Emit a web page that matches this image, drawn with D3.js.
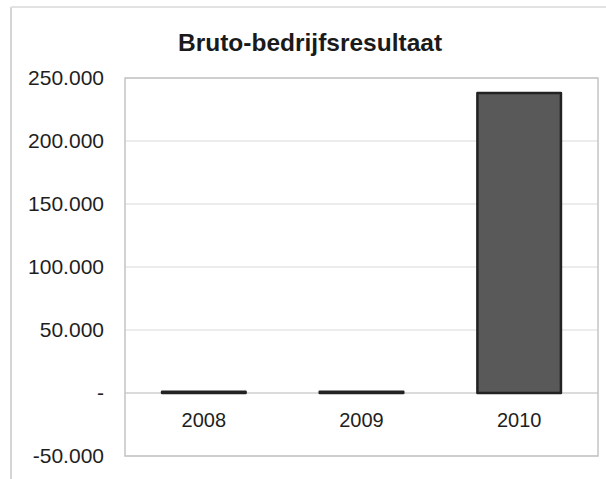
<!DOCTYPE html>
<html>
<head>
<meta charset="utf-8">
<script src="https://cdn.jsdelivr.net/npm/d3@7"></script>
<style>
  body { margin: 0; background: #fff; }
  svg { display: block; font-family: "Liberation Sans", Arial, sans-serif; }
</style>
</head>
<body>
<svg id="chart" width="606" height="479"></svg>
<script>
var years = ["2008", "2009", "2010"];
var values = [1000, 900, 238000];
var yTicks = [250000, 200000, 150000, 100000, 50000, 0, -50000];

var svg = d3.select("#chart");
var plotLeft = 125, plotRight = 598, plotTop = 78, plotBottom = 456;

// outer frame of the chart
svg.append("line")
    .attr("x1", 11).attr("y1", 7).attr("x2", 11).attr("y2", 479)
    .attr("stroke", "#d4d4d4").attr("stroke-width", 2);
svg.append("line")
    .attr("x1", 11).attr("y1", 7).attr("x2", 606).attr("y2", 7)
    .attr("stroke", "#e2e2e2").attr("stroke-width", 2);

svg.append("text")
    .attr("x", 310)
    .attr("y", 51)
    .attr("text-anchor", "middle")
    .attr("font-weight", "bold")
    .attr("font-size", "24.5px")
    .attr("fill", "#1a1a1a")
    .text("Bruto-bedrijfsresultaat");

var x = d3.scaleBand()
    .domain(years)
    .range([plotLeft, plotRight])
    .paddingInner(0.47)
    .paddingOuter(0.235);

var y = d3.scaleLinear()
    .domain([-50000, 250000])
    .range([plotBottom, plotTop]);

var nl = d3.formatLocale({decimal: ",", thousands: ".", grouping: [3], currency: ["€", ""], minus: "-"});
var fmt = nl.format(",d");

// grid lines
svg.append("g")
    .selectAll("line")
    .data(yTicks)
    .enter()
    .append("line")
        .attr("x1", plotLeft).attr("x2", plotRight)
        .attr("y1", function(d){ return y(d); })
        .attr("y2", function(d){ return y(d); })
        .attr("stroke", function(d){ return d == 0 ? "#cfcfcf" : "#e6e6e6"; })
        .attr("stroke-width", 1.5);

// plot area border
svg.append("rect")
    .attr("x", plotLeft).attr("y", plotTop)
    .attr("width", plotRight - plotLeft).attr("height", plotBottom - plotTop)
    .attr("fill", "none")
    .attr("stroke", "#c4c4c4")
    .attr("stroke-width", 1.5);

// y axis labels
var yAxis = d3.axisLeft(y)
    .tickValues(yTicks)
    .tickSize(0)
    .tickPadding(21)
    .tickFormat(function(d){ return d == 0 ? "-" : fmt(d); });
var ya = svg.append("g")
    .attr("transform", "translate(" + plotLeft + ",0)")
    .call(yAxis);
ya.select(".domain").remove();
ya.selectAll("text")
    .attr("font-size", "21px")
    .attr("fill", "#1e1e1e")
    .attr("font-family", "Liberation Sans, Arial, sans-serif");

// bars
svg.append("g")
    .selectAll("rect")
    .data(values)
    .enter()
    .append("rect")
        .attr("x", function(d, i){ return x(years[i]); })
        .attr("y", function(d){ return y(Math.max(d, 0)); })
        .attr("width", x.bandwidth())
        .attr("height", function(d){ return Math.abs(y(d) - y(0)); })
        .attr("fill", "#595959")
        .attr("stroke", "#222")
        .attr("stroke-width", 2.5)
        .attr("stroke-linejoin", "round");

// category labels
var xAxis = d3.axisBottom(x).tickSize(0).tickPadding(20);
var xa = svg.append("g")
    .attr("transform", "translate(0," + y(0) + ")")
    .call(xAxis);
xa.select(".domain").remove();
xa.selectAll("text")
    .attr("font-size", "20px")
    .attr("fill", "#1e1e1e")
    .attr("font-family", "Liberation Sans, Arial, sans-serif");
</script>
</body>
</html>
